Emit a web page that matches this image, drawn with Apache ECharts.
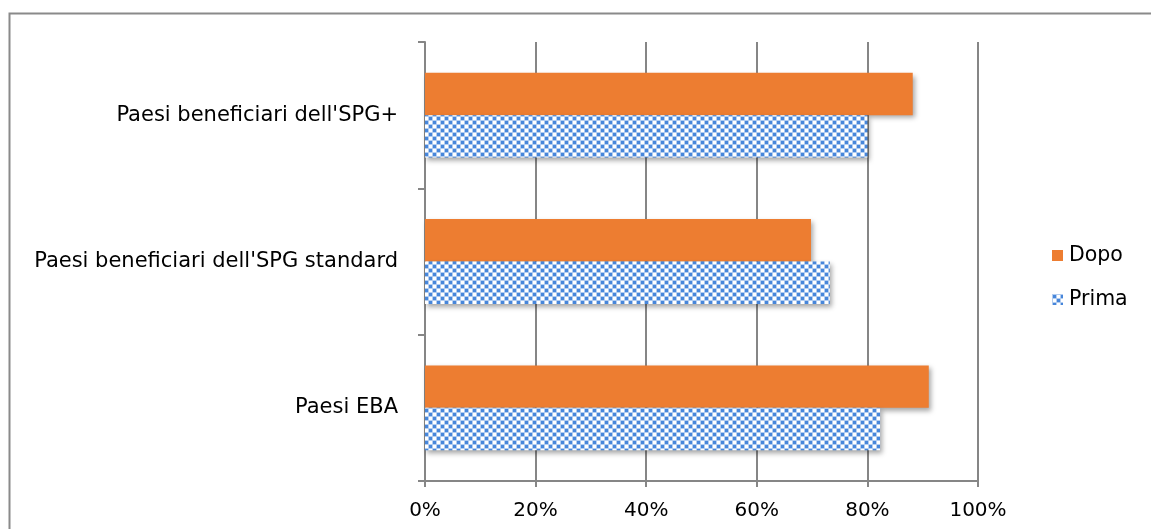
<!DOCTYPE html>
<html>
<head>
<meta charset="utf-8">
<script src="https://cdn.jsdelivr.net/npm/echarts@6/dist/echarts.min.js"></script>
<style>
  html, body { margin: 0; padding: 0; background: #ffffff; }
  #chart { width: 1151px; height: 529px; }
</style>
</head>
<body>
<div id="chart"></div>
<script>
// Categories, bottom to top
const categories = ['Paesi EBA', "Paesi beneficiari dell'SPG standard", "Paesi beneficiari dell'SPG+"];
// Share (%) per group
const primaValues = [82.3, 73.2, 80.0];
const dopoValues = [91.1, 69.8, 88.2];
const xTicks = [0, 20, 40, 60, 80, 100];

const FONT = 'DejaVu Sans';

// Blue checkered fill for the "Prima" bars
function makeChecker() {
  const c = document.createElement('canvas');
  c.width = 8; c.height = 8;
  const g = c.getContext('2d');
  g.fillStyle = '#b3cdf0';
  g.fillRect(0, 0, 8, 8);
  g.fillStyle = '#4786da';
  g.fillRect(1, 1, 3, 3);
  g.fillRect(5, 5, 3, 3);
  g.fillStyle = '#ffffff';
  g.fillRect(5, 1, 3, 3);
  g.fillRect(1, 5, 3, 3);
  return c;
}
const checker = { image: makeChecker(), repeat: 'repeat' };

const chart = echarts.init(document.getElementById('chart'), null, { renderer: 'canvas' });

const shadow = { shadowBlur: 5, shadowOffsetX: 2, shadowOffsetY: 3, shadowColor: 'rgba(0,0,0,0.35)' };

chart.setOption({
  animation: false,
  backgroundColor: '#ffffff',
  graphic: [{
    type: 'rect',
    shape: { x: 9.5, y: 13.5, width: 1300, height: 700 },
    style: { fill: 'none', stroke: '#8a8a8a', lineWidth: 2 },
    silent: true
  }],
  grid: { left: 425, right: 173, top: 42, bottom: 48, containLabel: false },
  legend: {
    data: ['Dopo', 'Prima'],
    orient: 'vertical',
    left: 1047,
    top: 240,
    itemWidth: 11,
    itemHeight: 11,
    itemGap: 23,
    textStyle: { fontFamily: FONT, fontSize: 20.5, color: '#000000', padding: [0, 0, 0, 1] },
    icon: 'rect'
  },
  xAxis: {
    type: 'value',
    min: 0,
    max: 100,
    interval: 20,
    axisLine: { show: true, lineStyle: { color: '#868686', width: 2 } },
    axisTick: { show: true, length: 6, lineStyle: { color: '#868686', width: 2 } },
    splitLine: { show: true, lineStyle: { color: '#868686', width: 2 } },
    axisLabel: {
      formatter: v => xTicks.includes(v) ? v + '%' : '',
      fontFamily: FONT, fontSize: 20, color: '#000000', margin: 20
    }
  },
  yAxis: {
    type: 'category',
    data: categories,
    axisLine: { show: true, lineStyle: { color: '#868686', width: 2 } },
    axisTick: { show: true, length: 7, lineStyle: { color: '#868686', width: 2 } },
    axisLabel: { fontFamily: FONT, fontSize: 21, color: '#000000', margin: 27 }
  },
  series: [
    {
      name: 'Dopo',
      type: 'bar',
      data: dopoValues,
      barGap: '0%',
      barCategoryGap: '42%',
      itemStyle: Object.assign({ color: '#ed7d31' }, shadow)
    },
    {
      name: 'Prima',
      type: 'bar',
      data: primaValues,
      barGap: '0%',
      barCategoryGap: '42%',
      itemStyle: Object.assign({ color: checker }, shadow)
    }
  ]
});
</script>
</body>
</html>
